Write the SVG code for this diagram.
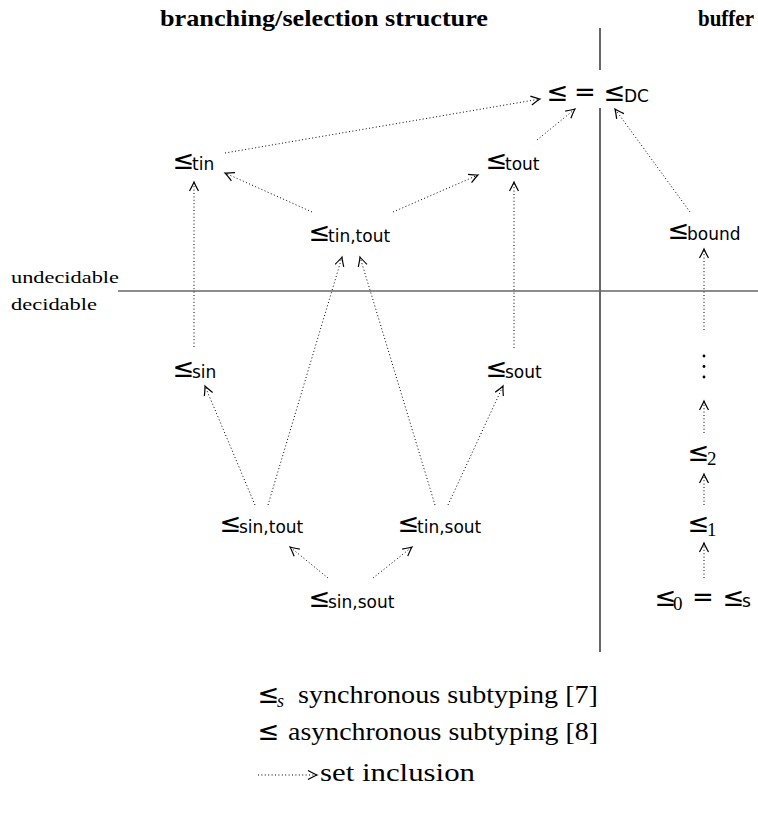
<svg xmlns="http://www.w3.org/2000/svg" width="758" height="817" viewBox="0 0 758 817">
<style>
.title{font-family:"Liberation Serif",serif;font-weight:bold;font-size:24px;fill:#000}
.side{font-family:"Liberation Serif",serif;font-size:17px;fill:#000}
.le{font-family:"DejaVu Sans",sans-serif;font-size:26px;fill:#000}
.sub{font-family:"DejaVu Sans",sans-serif;font-size:17px;fill:#000}
.dig{font-family:"Liberation Serif",serif;font-size:19px;fill:#000}
.leg{font-family:"Liberation Serif",serif;font-size:26px;fill:#000}
.edge{stroke:#000;stroke-width:1;stroke-dasharray:1 2.4;fill:none;marker-end:url(#ah)}
</style>
<defs>
<marker id="ah" markerUnits="userSpaceOnUse" viewBox="-12 -7 14 14" refX="0" refY="0" markerWidth="14" markerHeight="14" orient="auto">
<path d="M-9,-4.5 Q-3,-1.2 0,0 Q-3,1.2 -9,4.5" fill="none" stroke="#000" stroke-width="1.2" stroke-dasharray="none"/>
</marker>
</defs>
<g id="headers">
<text class="title" x="160" y="26" textLength="328" lengthAdjust="spacingAndGlyphs">branching/selection structure</text>
<text class="title" x="698" y="26" font-size="22" textLength="56" lengthAdjust="spacingAndGlyphs">buffer</text>
<text class="side" x="11" y="283" textLength="108" lengthAdjust="spacingAndGlyphs">undecidable</text>
<text class="side" x="11" y="310" textLength="86" lengthAdjust="spacingAndGlyphs">decidable</text>
</g>
<g id="dividers">
<line x1="600" y1="28" x2="600" y2="70" stroke="#000" stroke-width="1.2"/>
<line x1="600" y1="108" x2="600" y2="652" stroke="#000" stroke-width="1.2"/>
<line x1="118" y1="291" x2="758" y2="291" stroke="#666" stroke-width="1.5"/>
</g>
<g id="connectors">
<line class="edge" x1="225" y1="153" x2="540" y2="99"/>
<line class="edge" x1="537" y1="140" x2="575" y2="109"/>
<line class="edge" x1="690" y1="212" x2="615" y2="109"/>
<line class="edge" x1="312" y1="212" x2="225" y2="173"/>
<line class="edge" x1="393" y1="212" x2="478" y2="175"/>
<line class="edge" x1="194" y1="347" x2="194" y2="182"/>
<line class="edge" x1="514" y1="348" x2="514" y2="182"/>
<line class="edge" x1="268" y1="505" x2="342" y2="257"/>
<line class="edge" x1="435" y1="505" x2="360" y2="257"/>
<line class="edge" x1="255" y1="505" x2="205" y2="386"/>
<line class="edge" x1="448" y1="505" x2="503" y2="386"/>
<line class="edge" x1="328" y1="578" x2="290" y2="547"/>
<line class="edge" x1="373" y1="578" x2="412" y2="547"/>
<line class="edge" x1="704" y1="330" x2="704" y2="249"/>
<line class="edge" x1="704" y1="433" x2="704" y2="401"/>
<line class="edge" x1="704" y1="505" x2="704" y2="474"/>
<line class="edge" x1="704" y1="578" x2="704" y2="543"/>
</g>
<g id="n-dc"><text class="le" x="546.5" y="101">≤</text><text class="le" x="574" y="101">=</text><text class="le" x="603.5" y="101">≤</text><text class="sub" x="624" y="102">DC</text></g>
<g id="n-tin"><text class="le" x="172.5" y="169">≤</text><text class="sub" x="192" y="170">tin</text></g>
<g id="n-tout"><text class="le" x="485.5" y="169">≤</text><text class="sub" x="505" y="170">tout</text></g>
<g id="n-tintout"><text class="le" x="308.5" y="241">≤</text><text class="sub" x="328" y="242">tin,tout</text></g>
<g id="n-bound"><text class="le" x="667.5" y="239">≤</text><text class="sub" x="687" y="240">bound</text></g>
<g id="n-sin"><text class="le" x="172.5" y="377">≤</text><text class="sub" x="192" y="378">sin</text></g>
<g id="n-sout"><text class="le" x="485.5" y="377">≤</text><text class="sub" x="505" y="378">sout</text></g>
<g id="n-sintout"><text class="le" x="219.5" y="532">≤</text><text class="sub" x="239" y="533">sin,tout</text></g>
<g id="n-tinsout"><text class="le" x="397.5" y="532">≤</text><text class="sub" x="417" y="533">tin,sout</text></g>
<g id="n-sinsout"><text class="le" x="308.5" y="607">≤</text><text class="sub" x="328" y="608">sin,sout</text></g>
<g id="n-dots"><circle cx="704" cy="356" r="1.4"/><circle cx="704" cy="366.5" r="1.4"/><circle cx="704" cy="377" r="1.4"/></g>
<g id="n-2"><text class="le" x="687.5" y="461">≤</text><text class="dig" x="707" y="465">2</text></g>
<g id="n-1"><text class="le" x="687.5" y="532">≤</text><text class="dig" x="707" y="536">1</text></g>
<g id="n-0"><text class="le" x="654.5" y="606">≤</text><text class="dig" x="673" y="610">0</text><text class="le" x="692" y="606">=</text><text class="le" x="722.5" y="606">≤</text><text class="sub" x="742" y="607">s</text></g>
<g id="legend">
<text class="le" x="257.5" y="703">≤</text><text x="277" y="707" font-family="Liberation Serif, serif" font-style="italic" font-size="18">s</text>
<text class="leg" x="298" y="703" textLength="300" lengthAdjust="spacingAndGlyphs">synchronous subtyping [7]</text>
<text class="le" x="257.5" y="740">≤</text>
<text class="leg" x="288" y="740" textLength="310" lengthAdjust="spacingAndGlyphs">asynchronous subtyping [8]</text>
<line class="edge" x1="258" y1="775" x2="317" y2="775"/>
<text class="leg" x="320" y="781" textLength="155" lengthAdjust="spacingAndGlyphs">set inclusion</text>
</g>
</svg>
